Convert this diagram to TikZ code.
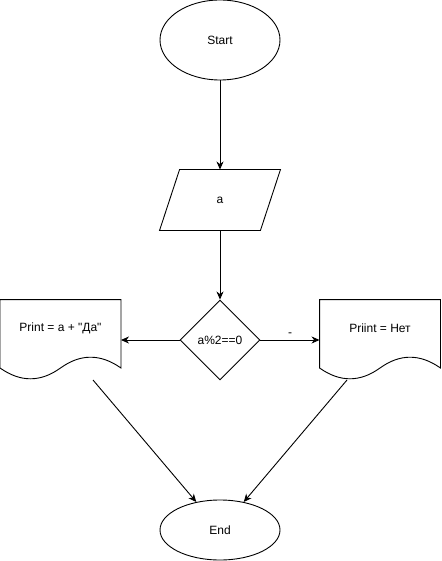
\documentclass[tikz,border=0pt]{standalone}
\usepackage{fontspec}
\setmainfont{Liberation Sans}[Ligatures=TeXOff]
\usetikzlibrary{shapes.geometric,arrows.meta}
\begin{document}
\begin{tikzpicture}[x=1pt,y=-1pt,line width=0.9pt,font=\fontsize{12}{14}\selectfont,
	>={Stealth[length=8pt,width=7pt,inset=2.5pt]},
	term/.style={draw,ellipse,minimum width=120pt,minimum height=80pt,inner sep=0pt},
	docbox/.style={rectangle,minimum width=120pt,minimum height=80pt,inner sep=0pt}]
	\useasboundingbox (0,0) rectangle (441,561);
	\node[term] (start) at (220,40) {Start};
	\node[rectangle,minimum width=120pt,minimum height=60pt,inner sep=0pt] (inp) at (220,200) {a};
	\draw ([xshift=20pt]inp.north west) -- (inp.north east) -- ([xshift=-20pt]inp.south east) -- (inp.south west) -- cycle;
	\node[draw,diamond,aspect=1,minimum size=80pt,inner sep=0pt] (cond) at (220,340) {a\%2==0};
	\node[docbox] (yes) at (60.5,340) {};
	\node[docbox] (no) at (380,340) {};
	\foreach \d in {yes,no}
		\draw (\d.north west) -- (\d.north east) -- ([yshift=-28pt]\d.east)
			.. controls ([xshift=40pt,yshift=-13.6pt]\d.center) and ([xshift=20pt,yshift=-13.6pt]\d.center) .. ([yshift=-28pt]\d.center)
			.. controls ([xshift=-20pt,yshift=-42.4pt]\d.center) and ([xshift=-40pt,yshift=-42.4pt]\d.center) .. ([yshift=-28pt]\d.west) -- cycle;
	\node (yestext) at ([yshift=12pt]yes.center) {Print = a + "Да"};
	\node (notext) at ([yshift=12pt]no.center) {Priint = Нет};
	\node[term,minimum height=60pt] (done) at (220,530) {End};
	\coordinate (yesout) at (93,380);
	\coordinate (noout) at (347,380);
	\draw[->] (start) -- (inp);
	\draw[->] (inp) -- (cond);
	\draw[->] (cond) -- (yes);
	\draw[->] (cond) -- node[above] {-} (no);
	\draw[->] (yesout) -- (done);
	\draw[->] (noout) -- (done);
\end{tikzpicture}
\end{document}
